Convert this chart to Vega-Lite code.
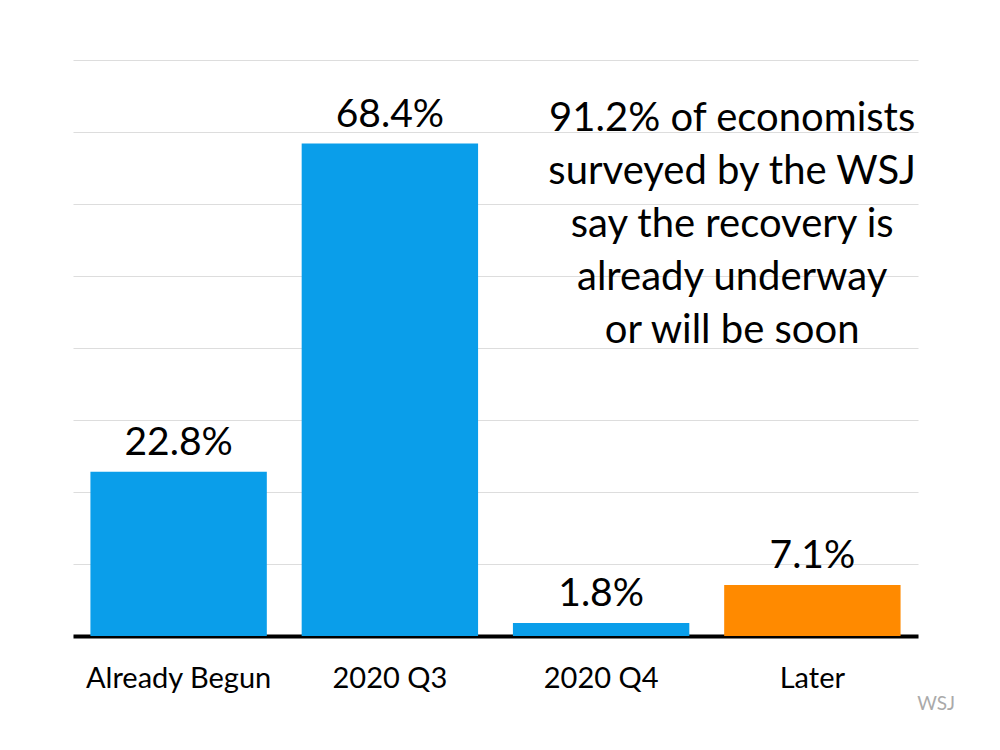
{
  "$schema": "https://vega.github.io/schema/vega-lite/v6.json",
  "width": 845,
  "height": 576,
  "autosize": {"type": "none"},
  "padding": {"left": 73, "top": 60, "right": 82, "bottom": 114},
  "background": "white",
  "config": {"view": {"stroke": null}, "font": "Lato"},
  "title": {"text": "WSJ", "orient": "bottom", "anchor": "end", "frame": "group", "fontSize": 19, "fontWeight": "normal", "color": "#aaaaaa", "font": "Lato", "dx": 37, "offset": 2},
  "layer": [
    {
      "data": {"values": [
        {"cat": "Already Begun", "pct": 0.228, "group": "soon"},
        {"cat": "2020 Q3", "pct": 0.684, "group": "soon"},
        {"cat": "2020 Q4", "pct": 0.018, "group": "soon"},
        {"cat": "Later", "pct": 0.071, "group": "later"}
      ]},
      "layer": [
        {
          "mark": {"type": "bar"},
          "encoding": {
            "x": {"field": "cat", "type": "nominal", "sort": null,
              "scale": {"domain": ["Already Begun", "2020 Q3", "2020 Q4", "Later"], "paddingInner": 0.165, "paddingOuter": 0.0825},
              "axis": {"title": null, "labelAngle": 0, "labelFontSize": 29, "labelLimit": 400, "labelColor": "#000", "labelPadding": 28, "ticks": false, "domainColor": "#000", "domainWidth": 4, "labelFont": "Lato"}},
            "y": {"field": "pct", "type": "quantitative", "scale": {"domain": [0, 0.8]},
              "axis": {"title": null, "labels": false, "ticks": false, "domain": false, "values": [0, 0.1, 0.2, 0.3, 0.4, 0.5, 0.6, 0.7, 0.8], "gridColor": "#dddddd", "gridWidth": 1}},
            "color": {"field": "group", "type": "nominal", "scale": {"domain": ["soon", "later"], "range": ["#0a9eea", "#ff8a00"]}, "legend": null}
          }
        },
        {
          "mark": {"type": "text", "baseline": "alphabetic", "dy": -17, "fontSize": 39, "color": "#000"},
          "encoding": {
            "x": {"field": "cat", "type": "nominal", "sort": null},
            "y": {"field": "pct", "type": "quantitative"},
            "text": {"field": "pct", "type": "quantitative", "format": ".1%"}
          }
        }
      ]
    },
    {
      "data": {"values": [{"cat": "Later", "v": 0.701, "note": "91.2% of economists\nsurveyed by the WSJ\nsay the recovery is\nalready underway\nor will be soon"}]},
      "mark": {"type": "text", "lineBreak": "\n", "lineHeight": 53, "fontSize": 40, "align": "center", "baseline": "alphabetic", "dx": 8, "color": "#000"},
      "encoding": {
        "x": {"field": "cat", "type": "nominal", "bandPosition": 0},
        "y": {"field": "v", "type": "quantitative"},
        "text": {"field": "note"}
      }
    }
  ]
}
